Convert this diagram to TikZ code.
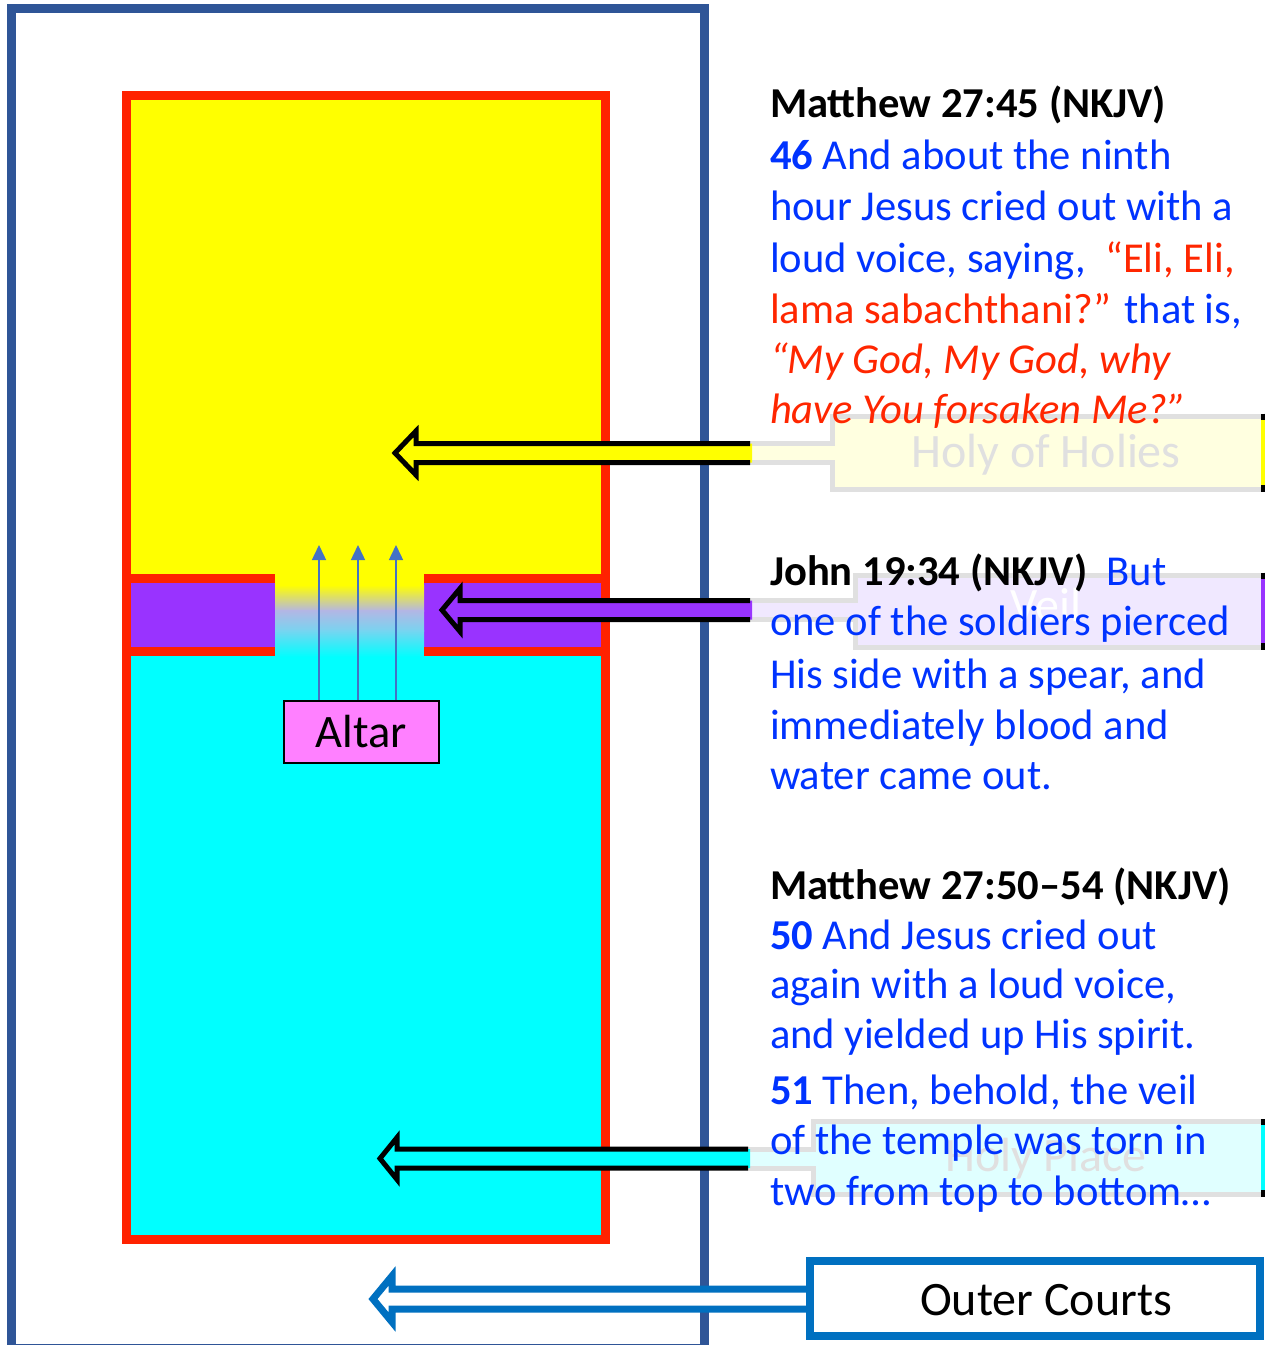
\documentclass[tikz,border=0pt]{standalone}
\usepackage{fontspec}
\setmainfont{Carlito}
\usetikzlibrary{arrows.meta}
\definecolor{frameblue}{HTML}{2F5597}
\definecolor{redline}{HTML}{FF2200}
\definecolor{hhyellow}{RGB}{255,255,0}
\definecolor{hpcyan}{RGB}{0,255,255}
\definecolor{veilpurple}{HTML}{9933FF}
\definecolor{altarpink}{HTML}{FF80FF}
\definecolor{rayblue}{HTML}{4472C4}
\definecolor{txtblue}{HTML}{0033FF}
\definecolor{txtred}{HTML}{FF2600}
\definecolor{courtblue}{HTML}{0070C0}
\definecolor{callgray}{HTML}{E0E0E0}
\definecolor{lightyellow}{HTML}{FFFFE0}
\definecolor{lightlav}{HTML}{F0E8FF}
\definecolor{lightcyan}{HTML}{E0FFFF}
\definecolor{midlav}{RGB}{180,182,228}
\definecolor{midsky}{RGB}{120,212,240}
\begin{document}
\begin{tikzpicture}[x=1pt,y=-1pt,
  verse/.style={anchor=base west, inner sep=0pt, outer sep=0pt, font=\fontsize{42.6}{50}\selectfont, text=txtblue},
  calloutlabel/.style={anchor=base, inner sep=0pt, font=\fontsize{48}{48}\selectfont},
  calloutbody/.style={draw=callgray, line width=5pt, line join=miter},
  blockarrow/.style={draw=black, line width=5pt, line join=miter},
  ray/.style={rayblue, line width=1.5pt, -{Triangle[width=14pt,length=15pt]}}]
\useasboundingbox (0,0) rectangle (1265,1345);
\clip (0,0) rectangle (1265,1345);

% outer frame
\draw[frameblue, line width=9pt] (11,8.5) rectangle (704,1348);

% temple compartments
\fill[hhyellow] (126,95) rectangle (605,578.5);
\fill[veilpurple] (126,578.5) rectangle (605,651.5);
\fill[hpcyan] (126,651.5) rectangle (605,1239);
% torn veil gap
\fill[hhyellow] (275,574) rectangle (424,586);
\shade[top color=hhyellow, bottom color=midlav] (275,585) rectangle (424,611);
\shade[top color=midlav, bottom color=midsky] (275,610) rectangle (424,631);
\shade[top color=midsky, bottom color=hpcyan] (275,630) rectangle (424,657);
% red outlines
\draw[redline, line width=9pt] (126,95) rectangle (605,1239);
\draw[redline, line width=9pt] (126,578.5) -- (275,578.5) (424,578.5) -- (605,578.5);
\draw[redline, line width=9pt] (126,651.5) -- (275,651.5) (424,651.5) -- (605,651.5);

% altar and rays
\node[draw=black, line width=2.5pt, fill=altarpink, minimum width=155pt, minimum height=62pt, inner sep=0pt, font=\fontsize{46.5}{46.5}\selectfont] (altar) at (361.5,732) {Altar};
\foreach \x [count=\i] in {319,358,396} {
  \coordinate (ray\i) at (\x,545);
  \draw[ray] (altar.north -| ray\i) -- (ray\i);
}

% ---- Holy of Holies callout
\draw[calloutbody, fill=lightyellow] (750,443.5) -- (832,443.5) -- (832,416) -- (1263,416) -- (1263,489) -- (832,489) -- (832,462.5) -- (750,462.5);
\draw[black, line width=4pt] (1263,413.5) -- (1263,491.5);
\draw[hhyellow, line width=4pt] (1263,420) -- (1263,485);
\fill[hhyellow] (752,443.5) -- (416,443.5) -- (416,431) -- (395,453) -- (416,475) -- (416,462.5) -- (752,462.5) -- cycle;
\draw[blockarrow] (750,443.5) -- (416,443.5) -- (416,431) -- (395,453) -- (416,475) -- (416,462.5) -- (750,462.5);
\node[calloutlabel, text=callgray] (hoh) at (1046,467) {Holy of Holies};

% ---- Veil callout
\draw[calloutbody, fill=lightlav] (750,600.5) -- (855,600.5) -- (855,575) -- (1263,575) -- (1263,647) -- (855,647) -- (855,619.5) -- (750,619.5);
\draw[black, line width=4pt] (1263,572.5) -- (1263,649.5);
\draw[veilpurple, line width=4pt] (1263,579) -- (1263,643);
\fill[veilpurple] (752,600.5) -- (460,600.5) -- (460,588.5) -- (442,610) -- (460,631.5) -- (460,619.5) -- (752,619.5) -- cycle;
\draw[blockarrow] (750,600.5) -- (460,600.5) -- (460,588.5) -- (442,610) -- (460,631.5) -- (460,619.5) -- (750,619.5);
\node[calloutlabel, text=white] (veil) at (1046,621) {Veil};

% ---- Holy Place callout
\draw[calloutbody, fill=lightcyan] (748,1149) -- (813,1149) -- (813,1121.5) -- (1263,1121.5) -- (1263,1194) -- (813,1194) -- (813,1168) -- (748,1168);
\draw[black, line width=4pt] (1263,1119) -- (1263,1196.5);
\draw[hpcyan, line width=4pt] (1263,1125) -- (1263,1190);
\fill[hpcyan] (750,1149) -- (397,1149) -- (397,1137.5) -- (380,1158.5) -- (397,1179.5) -- (397,1168) -- (750,1168) -- cycle;
\draw[blockarrow] (748,1149) -- (397,1149) -- (397,1137.5) -- (380,1158.5) -- (397,1179.5) -- (397,1168) -- (748,1168);
\node[calloutlabel, text=callgray] (hp) at (1046,1171) {Holy Place};

% ---- Outer Courts
\fill[white] (812,1289) -- (392,1289) -- (392,1276) -- (373,1299) -- (392,1322) -- (392,1309) -- (812,1309) -- cycle;
\draw[courtblue, line width=7pt, line join=miter] (812,1289) -- (392,1289) -- (392,1276) -- (373,1299) -- (392,1322) -- (392,1309) -- (812,1309);
\node[draw=courtblue, line width=8pt, fill=white, minimum width=450pt, minimum height=75pt, inner sep=0pt] (outerbox) at (1035,1298.5) {};
\node[calloutlabel, text=black] (outerlabel) at (1046,1315) {Outer Courts};

% ---- verse texts
\node[verse, text=black] (m1) at (770,117) {\textbf{Matthew 27:45 (NKJV)}};
\node[verse] (m2) at (770,169) {\textbf{46} And about the ninth};
\node[verse] (m3) at (770,220) {hour Jesus cried out with a};
\node[verse] (m4) at (770,272) {loud voice, saying,\ \ \textcolor{txtred}{“Eli, Eli,}};
\node[verse] (m5) at (770,323) {\textcolor{txtred}{lama sabachthani?”} that is,};
\node[verse, text=txtred] (m6) at (770,373) {\itshape “My God, My God, why};
\node[verse, text=txtred] (m7) at (770,423) {\itshape have You forsaken Me?”};

\node[verse] (j1) at (770,585) {\textcolor{black}{\textbf{John 19:34 (NKJV)}}\ \ But};
\node[verse] (j2) at (770,635) {one of the soldiers pierced};
\node[verse] (j3) at (770,688) {His side with a spear, and};
\node[verse] (j4) at (770,739) {immediately blood and};
\node[verse] (j5) at (770,789) {water came out.};

\node[verse, text=black] (n1) at (770,899) {\textbf{Matthew 27:50–54 (NKJV)}};
\node[verse] (n2) at (770,949) {\textbf{50} And Jesus cried out};
\node[verse] (n3) at (770,998) {again with a loud voice,};
\node[verse] (n4) at (770,1048) {and yielded up His spirit.};
\node[verse] (n5) at (770,1104) {\textbf{51} Then, behold, the veil};
\node[verse] (n6) at (770,1154) {of the temple was torn in};
\node[verse] (n7) at (770,1205) {two from top to bottom…};
\end{tikzpicture}
\end{document}
